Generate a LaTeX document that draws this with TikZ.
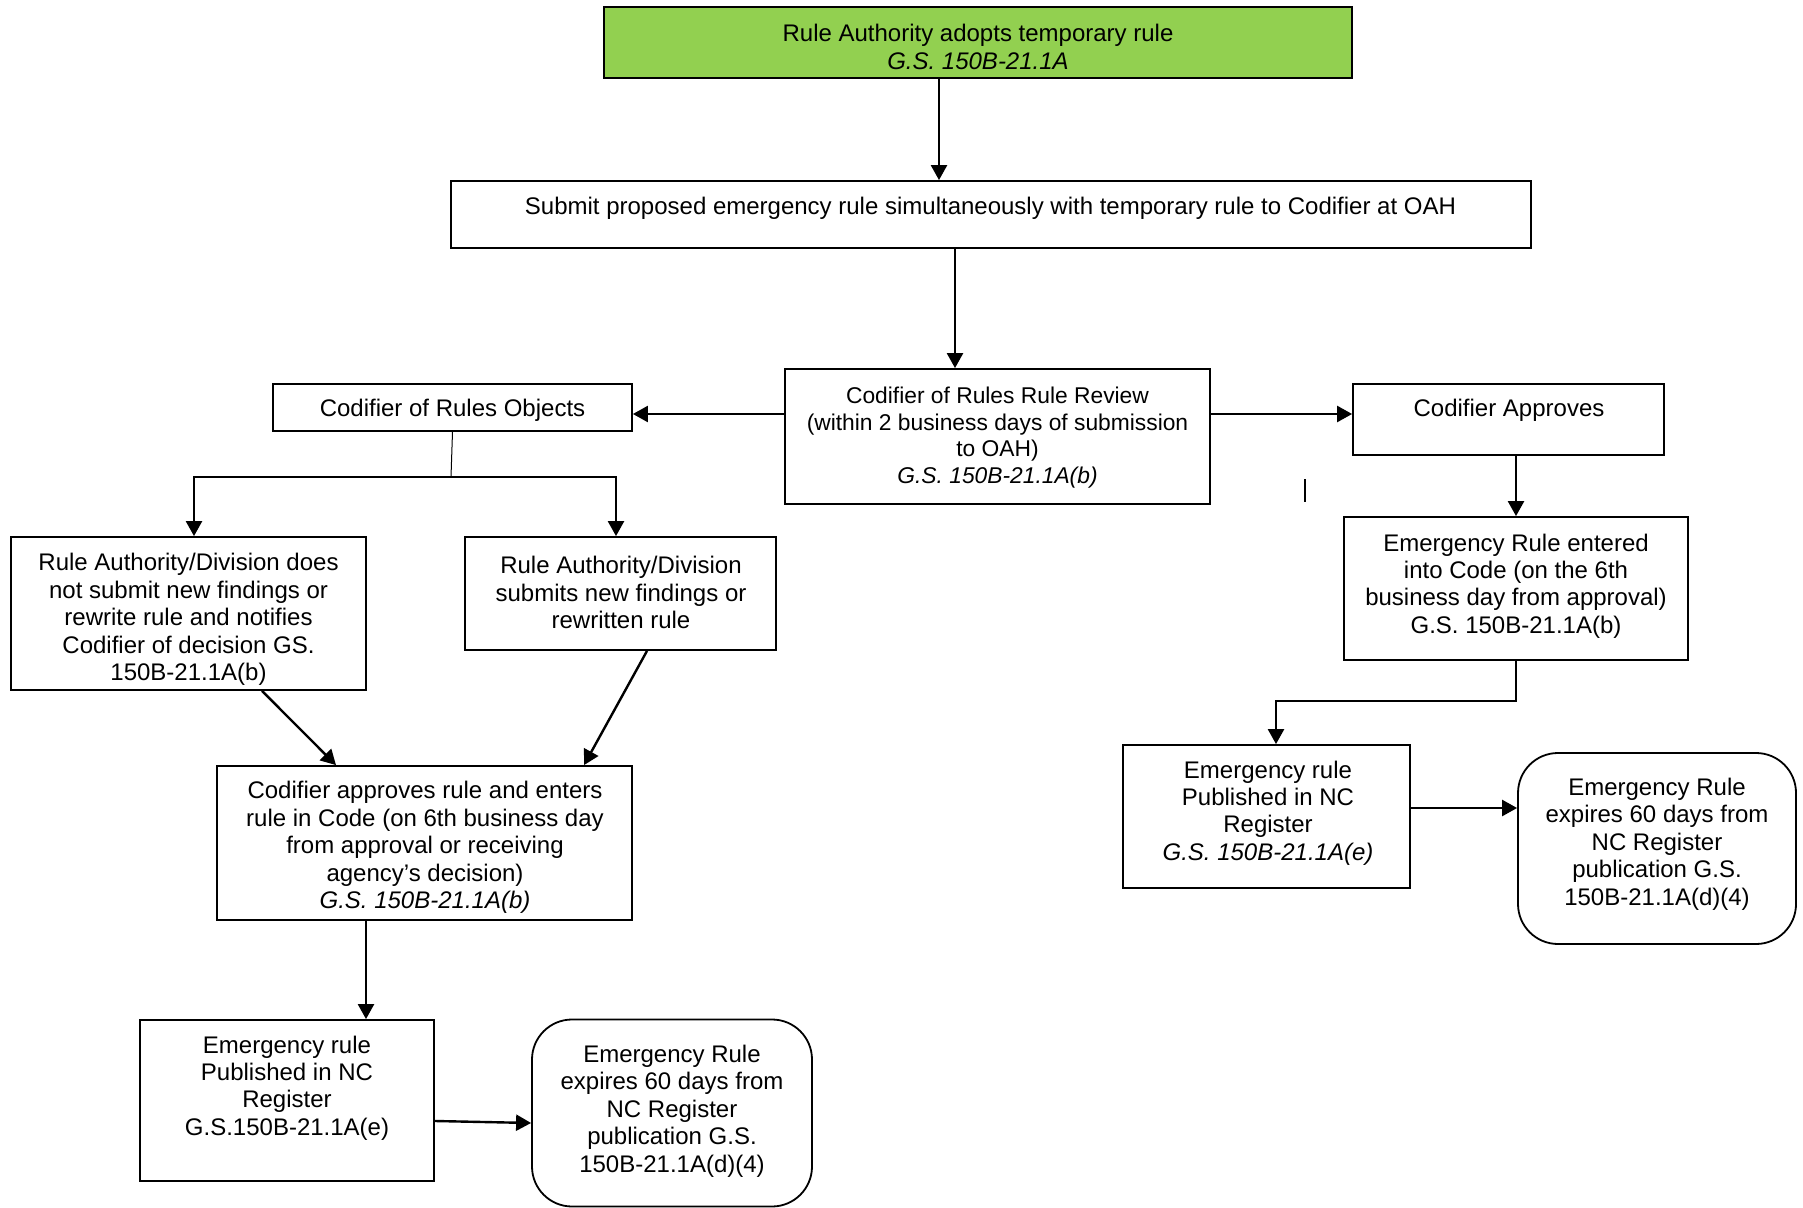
\documentclass[tikz,border=0pt]{standalone}
\usepackage{fontspec}
\setmainfont{Liberation Sans}
\usetikzlibrary{arrows.meta}
\definecolor{rulegreen}{HTML}{92D050}
\begin{document}
\begin{tikzpicture}[x=0.5pt,y=-0.5pt,
   box/.style={draw,line width=0.9pt,inner sep=0pt},
   rbox/.style={box,rounded corners=20pt},
   txt/.style={align=center,font=\fontsize{12}{13.7}\selectfont,inner sep=0pt},
   arr/.style={line width=1.2pt,-{Triangle[length=7.5pt,width=8pt]}}]
   \useasboundingbox (0,0) rectangle (1803,1208);

   % boxes
   \node[box,fill=rulegreen,line width=1.2pt,minimum width=374pt,minimum height=35.5pt] (adopt) at (978,42.5) {};
   \node[box,minimum width=540pt,minimum height=33.5pt] (submit) at (991,214.5) {};
   \node[box,minimum width=212.5pt,minimum height=67.5pt] (review) at (997.5,436.5) {};
   \node[box,minimum width=179.5pt,minimum height=23.5pt] (objects) at (452.5,407.5) {};
   \node[box,minimum width=155.5pt,minimum height=35.5pt] (approves) at (1508.5,419.5) {};
   \node[box,minimum width=177.5pt,minimum height=76.5pt] (nosubmit) at (188.5,613.5) {};
   \node[box,minimum width=155.5pt,minimum height=56.5pt] (resubmit) at (620.5,593.5) {};
   \node[box,minimum width=207.5pt,minimum height=77pt] (enters) at (424.5,843) {};
   \node[box,minimum width=147pt,minimum height=80.5pt] (leftpub) at (287,1100.5) {};
   \node[rbox,minimum width=140pt,minimum height=93.5pt] (leftexp) at (672,1113) {};
   \node[box,minimum width=172pt,minimum height=71.5pt] (entered) at (1516,588.5) {};
   \node[box,minimum width=143.5pt,minimum height=71.5pt] (rightpub) at (1266.5,816.5) {};
   \node[rbox,minimum width=139pt,minimum height=95.5pt] (rightexp) at (1657,848.5) {};

   % texts
   \node[txt] (adopt-t) at (978,47) {Rule Authority adopts temporary rule\\\textit{G.S. 150B-21.1A}};
   \node[txt] (submit-t) at (990.5,208.5) {Submit proposed emergency rule simultaneously with temporary rule to Codifier at OAH};
   \node[txt,font=\fontsize{11.4}{13.2}\selectfont] (review-t) at (997.5,437.5) {Codifier of Rules Rule Review\\(within 2 business days of submission\\to OAH)\\\textit{G.S. 150B-21.1A(b)}};
   \node[txt] (objects-t) at (452.5,410.5) {Codifier of Rules Objects};
   \node[txt] (approves-t) at (1509,410.5) {Codifier Approves};
   \node[txt] (nosubmit-t) at (188.5,619.5) {Rule Authority/Division does\\not submit new findings or\\rewrite rule and notifies\\Codifier of decision GS.\\150B-21.1A(b)};
   \node[txt] (resubmit-t) at (621,592.5) {Rule Authority/Division\\submits new findings or\\rewritten rule};
   \node[txt] (enters-t) at (425,847.5) {Codifier approves rule and enters\\rule in Code (on 6th business day\\from approval or receiving\\agency’s decision)\\\textit{G.S. 150B-21.1A(b)}};
   \node[txt] (leftpub-t) at (287,1088) {Emergency rule\\Published in NC\\Register\\G.S.150B-21.1A(e)};
   \node[txt] (leftexp-t) at (672,1111) {Emergency Rule\\expires 60 days from\\NC Register\\publication G.S.\\150B-21.1A(d)(4)};
   \node[txt] (entered-t) at (1516,586) {Emergency Rule entered\\into Code (on the 6th\\business day from approval)\\G.S. 150B-21.1A(b)};
   \node[txt] (rightpub-t) at (1268,813) {Emergency rule\\Published in NC\\Register\\\textit{G.S. 150B-21.1A(e)}};
   \node[txt] (rightexp-t) at (1657,844) {Emergency Rule\\expires 60 days from\\NC Register\\publication G.S.\\150B-21.1A(d)(4)};

   % connectors
   \draw[arr] ([xshift=-19.5pt]adopt.south) -- ([xshift=-26pt]submit.north);
   \draw[arr] ([xshift=-18pt]submit.south) -- ([xshift=-21.25pt]review.north);
   \draw[arr] ([yshift=11.25pt]review.west) -- ([yshift=-3.25pt]objects.east);
   \draw[arr] ([yshift=11.25pt]review.east) -- ([yshift=2.75pt]approves.west);
   \coordinate (split) at (451,477);
   \draw[line width=0.5pt] (objects.south) -- (split);
   \draw[arr] (split) -| ([xshift=2.75pt]nosubmit.north);
   \draw[arr] (split) -| ([xshift=-2.25pt]resubmit.north);
   \draw[arr] ([xshift=36.75pt]nosubmit.south) -- ([xshift=-44.25pt]enters.north);
   \draw[arr] ([xshift=13.25pt]resubmit.south) -- ([xshift=79.75pt]enters.north);
   \draw[arr] ([xshift=-29.25pt]enters.south) -- ([xshift=39.5pt]leftpub.north);
   \draw[arr] ([yshift=-10.25pt]leftpub.east) -- ([yshift=-5pt]leftexp.west);
   \draw[arr] (approves.south -| entered.north) -- (entered.north);
   \draw[arr] (entered.south) -- ++(0,-20pt) -| ([xshift=4.75pt]rightpub.north);
   \draw[arr] ([yshift=4.25pt]rightpub.east) -- ([yshift=20.25pt]rightexp.west);
   \draw[line width=0.6pt] (1305,479) -- (1305,502);
\end{tikzpicture}
\end{document}
